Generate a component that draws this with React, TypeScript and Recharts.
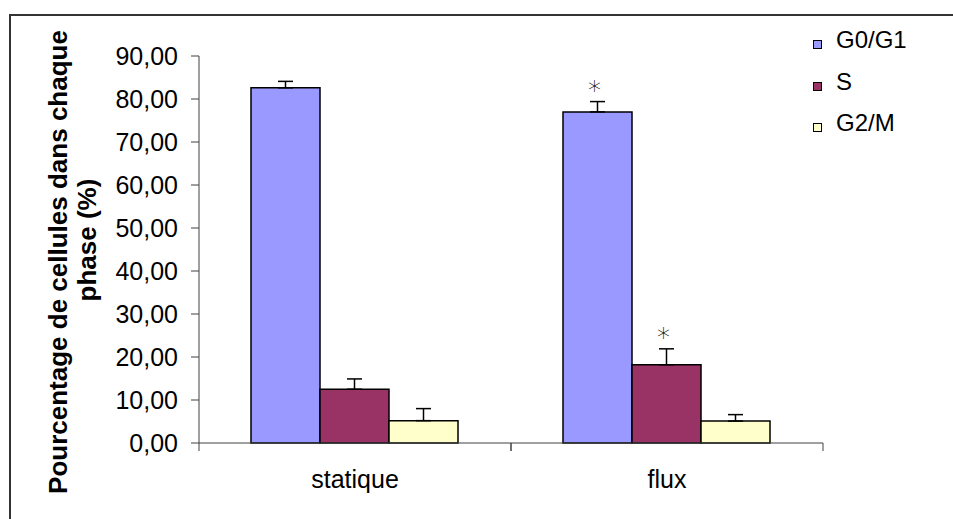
import { BarChart, Bar, XAxis, YAxis, ErrorBar, Legend, LabelList } from 'recharts'

const categories = ['statique', 'flux']
const g0g1 = [82.6, 77.0]
const g0g1Err = [1.5, 2.4]
const sPhase = [12.5, 18.2]
const sErr = [2.4, 3.7]
const g2m = [5.2, 5.1]
const g2mErr = [2.8, 1.5]
const g0g1Sig = [false, true]
const sSig = [false, true]
const yTicks = [0, 10, 20, 30, 40, 50, 60, 70, 80, 90]

const series = [
  { key: 'g0g1', name: 'G0/G1', color: '#9999ff' },
  { key: 's', name: 'S', color: '#993366' },
  { key: 'g2m', name: 'G2/M', color: '#ffffcc' },
]

const data = categories.map((c, i) => ({
  name: c,
  g0g1: g0g1[i],
  g0g1Err: [0, g0g1Err[i]],
  s: sPhase[i],
  sErr: [0, sErr[i]],
  g2m: g2m[i],
  g2mErr: [0, g2mErr[i]],
}))

const FONT = '"Liberation Sans", Arial, sans-serif'
const AXIS = '#404040'

const fmt = (v: number) => v.toFixed(2).replace('.', ',')

function star(errs: number[], sig: boolean[]) {
  return (p: any) => {
    const { x, y, width, height, value, index } = p
    if (!sig[index] || !value) return null
    const top = y - (errs[index] * height) / value
    return (
      <text x={x + width / 2 - 3} y={top - 2} textAnchor="middle" fontFamily='"DejaVu Sans", sans-serif' fontWeight={300} fontSize={26} fill="#000">
        *
      </text>
    )
  }
}

function XTick(p: any) {
  const { x, y, payload } = p
  const half = payload?.offset ?? 156
  return (
    <g>
      <line x1={x - half} y1={y} x2={x - half} y2={y + 8} stroke={AXIS} />
      <line x1={x + half} y1={y} x2={x + half} y2={y + 8} stroke={AXIS} />
      <text x={x} y={y + 45} textAnchor="middle" fontFamily={FONT} fontSize={25} fill="#000">
        {payload.value}
      </text>
    </g>
  )
}

function YLabel() {
  return (
    <g fontFamily={FONT} fontSize={26} fontWeight="bold" fill="#000">
      <text x={67} y={262} textAnchor="middle" transform="rotate(-90, 67, 262)">
        Pourcentage de cellules dans chaque
      </text>
      <text x={96} y={240} textAnchor="middle" transform="rotate(-90, 96, 240)">
        phase (%)
      </text>
    </g>
  )
}

function LegendBox() {
  return (
    <div style={{ fontFamily: FONT, fontSize: 24, lineHeight: '24px', color: '#000' }}>
      {series.map((s) => (
        <div key={s.key} style={{ position: 'relative', height: 41.5 }}>
          <div
            style={{
              position: 'absolute',
              left: 0,
              top: 12,
              width: 9,
              height: 9,
              boxSizing: 'border-box',
              border: '1px solid #000',
              background: s.color,
            }}
          />
          <span style={{ position: 'absolute', left: 23, top: 0, whiteSpace: 'nowrap' }}>{s.name}</span>
        </div>
      ))}
    </div>
  )
}

export default function App() {
  return (
    <div style={{ position: 'absolute', left: 0, top: 0, width: 953, height: 519, overflow: 'hidden', background: '#fff' }}>
      <div
        style={{
          position: 'absolute',
          left: 9,
          top: 14,
          width: 1000,
          height: 600,
          borderTop: '2px solid #333',
          borderLeft: '2px solid #333',
        }}
      />
      <div style={{ position: 'absolute', left: 0, top: 0 }}>
        <BarChart
          width={953}
          height={519}
          data={data}
          margin={{ top: 56, right: 130, left: 79, bottom: 36 }}
          barCategoryGap={52}
          barGap={0}
        >
          <XAxis
            dataKey="name"
            height={40}
            stroke={AXIS}
            tickLine={false}
            tickSize={0}
            tickMargin={0}
            tick={<XTick />}
            interval={0}
          />
          <YAxis
            width={120}
            domain={[0, 90]}
            ticks={yTicks}
            interval={0}
            stroke={AXIS}
            tickSize={8}
            tickMargin={13}
            tickFormatter={fmt}
            tick={{ fill: '#000', fontSize: 25, fontFamily: FONT }}
            label={<YLabel />}
          />
          <Legend
            layout="vertical"
            align="center"
            verticalAlign="middle"
            wrapperStyle={{ position: 'absolute', left: 813, top: 28, width: 140 }}
            content={<LegendBox />}
          />
          <Bar dataKey="g0g1" name="G0/G1" fill="#9999ff" stroke="#000" strokeWidth={1.5} isAnimationActive={false}>
            <ErrorBar dataKey="g0g1Err" width={7.5} stroke="#000" strokeWidth={1.5} direction="y" />
            <LabelList dataKey="g0g1" content={star(g0g1Err, g0g1Sig)} />
          </Bar>
          <Bar dataKey="s" name="S" fill="#993366" stroke="#000" strokeWidth={1.5} isAnimationActive={false}>
            <ErrorBar dataKey="sErr" width={7.5} stroke="#000" strokeWidth={1.5} direction="y" />
            <LabelList dataKey="s" content={star(sErr, sSig)} />
          </Bar>
          <Bar dataKey="g2m" name="G2/M" fill="#ffffcc" stroke="#000" strokeWidth={1.5} isAnimationActive={false}>
            <ErrorBar dataKey="g2mErr" width={7.5} stroke="#000" strokeWidth={1.5} direction="y" />
          </Bar>
        </BarChart>
      </div>
    </div>
  )
}
